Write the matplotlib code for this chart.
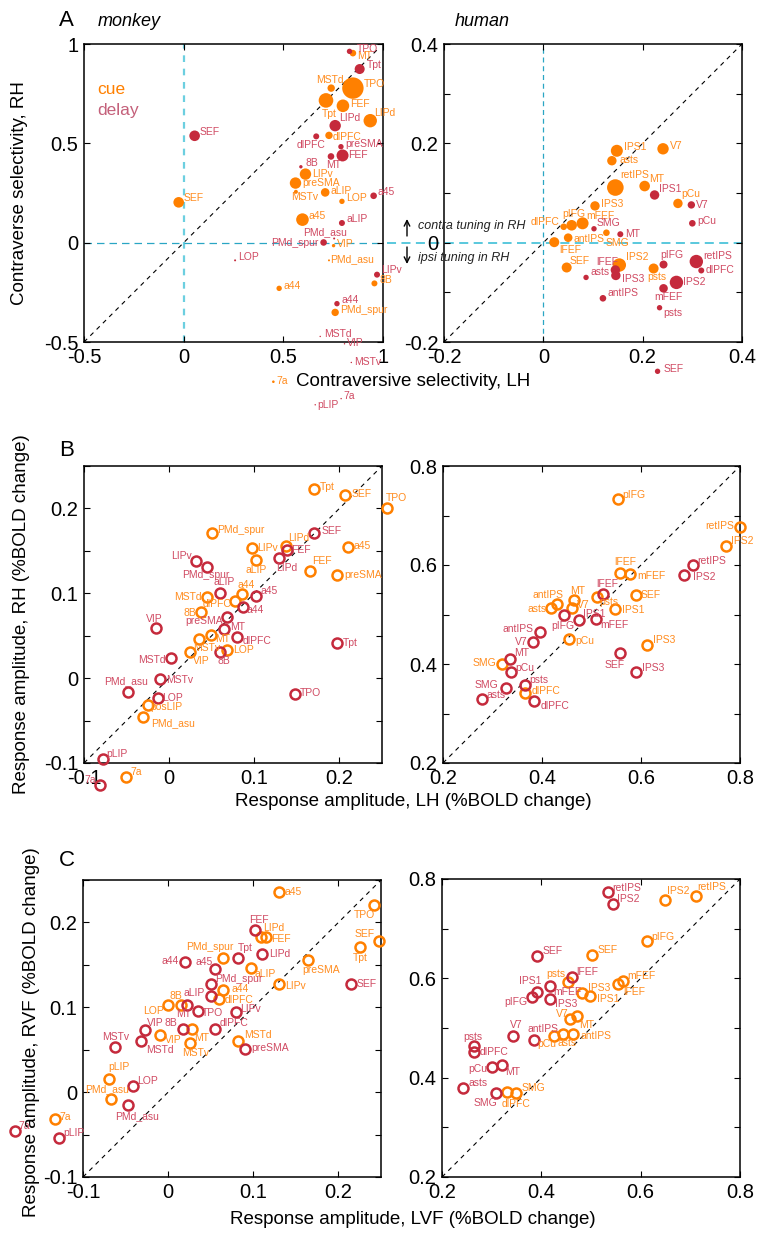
import matplotlib.pyplot as plt
import numpy as np

plt.rcParams['font.family'] = ['Liberation Sans', 'DejaVu Sans']

W, H = 765, 1233
CUE = '#FF8000'
DELAY = '#C52A3C'
CUE_TXT = '#FF8C1F'
DELAY_TXT = '#D04A62'

# ---------------- panel A, monkey (filled, size ~ significance) ----------------
a_mk_cue_names = ['MT', 'TPO', 'MSTd', 'Tpt', 'FEF', 'LIPd', 'dlPFC', '8B', 'LIPv', 'preSMA',
                  'MSTv', 'aLIP', 'LOP', 'SEF', 'a45', 'VIP', 'PMd_asu', 'a44', 'PMd_spur', '7a']
a_mk_cue_x = [0.849, 0.849, 0.740, 0.714, 0.799, 0.936, 0.729, 0.957, 0.611, 0.561,
              0.563, 0.710, 0.794, -0.025, 0.596, 0.752, 0.729, 0.479, 0.760, 0.450]
a_mk_cue_y = [0.954, 0.778, 0.778, 0.716, 0.689, 0.614, 0.540, -0.205, 0.345, 0.300,
              0.256, 0.253, 0.208, 0.203, 0.116, -0.015, -0.089, -0.230, -0.351, -0.700]
a_mk_cue_w = [3.3, 10.7, 3.7, 7.3, 6.3, 6.7, 3.7, 3.0, 5.7, 5.7,
              2.0, 4.3, 2.7, 5.3, 6.3, 1.7, 1.0, 2.7, 3.7, 1.3]

a_mk_del_names = ['TPO', 'Tpt', 'LIPd', 'dlPFC', 'SEF', 'preSMA', 'MT', 'FEF', '8B', 'a45', 'aLIP',
                  'PMd_asu', 'PMd_spur', 'LOP', 'LIPv', 'a44', 'MSTd', 'VIP', 'MSTv', 'pLIP', '7a']
a_mk_del_x = [0.832, 0.883, 0.760, 0.665, 0.055, 0.789, 0.739, 0.797, 0.588, 0.953, 0.794,
              0.755, 0.702, 0.258, 0.970, 0.769, 0.685, 0.807, 0.841, 0.660, 0.790]
a_mk_del_y = [0.963, 0.874, 0.589, 0.535, 0.538, 0.483, 0.434, 0.439, 0.382, 0.236, 0.099,
              0.021, 0.001, -0.089, -0.161, -0.307, -0.472, -0.509, -0.603, -0.816, -0.785]
a_mk_del_w = [2.7, 5.0, 5.7, 3.0, 5.3, 2.7, 3.3, 6.0, 1.7, 3.3, 3.0,
              1.0, 3.3, 1.0, 3.0, 2.7, 0.7, 0.7, 0.7, 0.7, 0.7]

# ---------------- panel A, human ----------------
a_hu_cue_names = ['IPS1', 'asts', 'V7', 'retIPS', 'MT', 'pCu', 'IPS3', 'pIFG', 'mFEF', 'dlPFC',
                  'antIPS', 'SMG', 'lFEF', 'SEF', 'IPS2', 'psts']
a_hu_cue_x = [0.148, 0.138, 0.241, 0.145, 0.204, 0.271, 0.104, 0.057, 0.079, 0.041,
              0.050, 0.127, 0.022, 0.047, 0.153, 0.222]
a_hu_cue_y = [0.185, 0.165, 0.189, 0.111, 0.114, 0.079, 0.074, 0.035, 0.039, 0.032,
              0.010, 0.020, 0.001, -0.050, -0.045, -0.052]
a_hu_cue_w = [6.0, 4.7, 5.7, 8.3, 5.3, 4.7, 4.7, 5.3, 6.0, 3.3,
              4.3, 3.3, 5.0, 5.0, 6.7, 5.0]

a_hu_del_names = ['IPS1', 'V7', 'pCu', 'SMG', 'MT', 'pIFG', 'retIPS', 'dlPFC', 'asts', 'lFEF',
                  'IPS3', 'IPS2', 'mFEF', 'antIPS', 'psts', 'SEF']
a_hu_del_x = [0.224, 0.298, 0.300, 0.102, 0.155, 0.242, 0.308, 0.318, 0.086, 0.145,
              0.146, 0.268, 0.242, 0.120, 0.234, 0.230]
a_hu_del_y = [0.096, 0.076, 0.039, 0.028, 0.017, -0.044, -0.038, -0.056, -0.070, -0.055,
              -0.066, -0.080, -0.092, -0.112, -0.131, -0.259]
a_hu_del_w = [4.7, 3.7, 3.3, 2.7, 3.0, 4.0, 6.7, 3.0, 2.7, 4.7,
              4.7, 6.7, 4.3, 3.3, 2.7, 2.7]

# ---------------- panel B, monkey (RH vs LH) ----------------
b_mk_cue_names = ['Tpt', 'SEF', 'TPO', 'PMd_spur', 'LIPv', 'LIPd', 'a45', 'aLIP', 'FEF', 'preSMA', 'a44',
                  'MSTd', 'dlPFC', '8B', 'MT', 'MSTv', 'VIP', 'LOP', 'posLIP', 'PMd_asu', '7a']
b_mk_cue_x = [0.170, 0.207, 0.2555, 0.050, 0.097, 0.137, 0.210, 0.102, 0.165, 0.197, 0.085,
              0.0445, 0.077, 0.0374, 0.0495, 0.0347, 0.0245, 0.0676, -0.0252, -0.0303, -0.0507]
b_mk_cue_y = [0.223, 0.216, 0.2006, 0.171, 0.153, 0.156, 0.154, 0.139, 0.126, 0.121, 0.0987,
              0.096, 0.091, 0.078, 0.0506, 0.046, 0.031, 0.0335, -0.0314, -0.0458, -0.117]

b_mk_del_names = ['SEF', 'FEF', 'LIPd', 'LIPv', 'PMd_spur', 'aLIP', 'a45', 'a44', 'preSMA', 'MT', 'dlPFC',
                  '8B', 'VIP', 'MSTd', 'MSTv', 'PMd_asu', 'LOP', 'pLIP', '7a', 'Tpt', 'TPO']
b_mk_del_x = [0.170, 0.139, 0.129, 0.0315, 0.0445, 0.0597, 0.102, 0.0868, 0.0676, 0.0644, 0.0797,
              0.060, -0.0154, 0.002, -0.0107, -0.048, -0.0134, -0.078, -0.0812, 0.197, 0.1478]
b_mk_del_y = [0.171, 0.151, 0.141, 0.1385, 0.131, 0.1007, 0.0963, 0.0843, 0.0717, 0.0585, 0.0488,
              0.031, 0.0588, 0.0237, -0.0009, -0.016, -0.0239, -0.0953, -0.1258, 0.0417, -0.0185]

# ---------------- panel B, human ----------------
b_hu_cue_names = ['pIFG', 'retIPS', 'IPS2', 'lFEF', 'mFEF', 'SEF', 'psts', 'antIPS', 'MT', 'asts',
                  'V7', 'IPS1', 'pCu', 'IPS3', 'SMG', 'dlPFC']
b_hu_cue_x = [0.553, 0.800, 0.771, 0.558, 0.577, 0.589, 0.511, 0.430, 0.464, 0.4186,
              0.4616, 0.548, 0.455, 0.612, 0.319, 0.3647]
b_hu_cue_y = [0.7325, 0.677, 0.638, 0.583, 0.581, 0.539, 0.536, 0.522, 0.529, 0.5135,
              0.514, 0.512, 0.450, 0.438, 0.3995, 0.341]

b_hu_del_names = ['retIPS', 'IPS2', 'lFEF', 'IPS1', 'pIFG', 'mFEF', 'antIPS', 'V7', 'SEF', 'IPS3',
                  'MT', 'pCu', 'SMG', 'psts', 'asts', 'dlPFC']
b_hu_del_x = [0.7045, 0.687, 0.523, 0.4757, 0.444, 0.509, 0.395, 0.3816, 0.558, 0.590,
              0.3358, 0.3365, 0.3263, 0.365, 0.278, 0.383]
b_hu_del_y = [0.5996, 0.5794, 0.541, 0.4887, 0.4995, 0.490, 0.464, 0.444, 0.4216, 0.3834,
              0.4095, 0.3834, 0.351, 0.3578, 0.329, 0.3255]

# ---------------- panel C, monkey (RVF vs LVF) ----------------
c_mk_cue_names = ['a45', 'TPO', 'SEF', 'Tpt', 'LIPd', 'FEF', 'PMd_spur', 'preSMA', 'aLIP', 'LIPv', 'a44',
                  'dlPFC', '8B', 'LOP', 'MT', 'VIP', 'MSTv', 'MSTd', 'pLIP', 'PMd_asu', '7a']
c_mk_cue_x = [0.130, 0.242, 0.2477, 0.2254, 0.1096, 0.115, 0.0646, 0.1647, 0.0975, 0.1307, 0.065,
              0.0603, 0.015, -0.0003, 0.0279, -0.0097, 0.0255, 0.0826, -0.070, -0.0671, -0.1325]
c_mk_cue_y = [0.2355, 0.2206, 0.178, 0.1706, 0.183, 0.183, 0.158, 0.1557, 0.1459, 0.1277, 0.1203,
              0.110, 0.103, 0.103, 0.075, 0.0675, 0.0577, 0.060, 0.0149, -0.0075, -0.0311]

c_mk_del_names = ['FEF', 'LIPd', 'Tpt', 'a44', 'a45', 'PMd_spur', 'aLIP', 'SEF', 'MT', 'TPO', 'LIPv',
                  'dlPFC', '8B', 'VIP', 'MSTd', 'MSTv', 'preSMA', 'LOP', 'PMd_asu', '7a', 'pLIP']
c_mk_del_x = [0.1025, 0.110, 0.0826, 0.020, 0.0549, 0.0502, 0.0502, 0.2152, 0.0227, 0.0353, 0.0799,
              0.0552, 0.0173, -0.0277, -0.0324, -0.0621, 0.0904, -0.0418, -0.0477, -0.1794, -0.1282]
c_mk_del_y = [0.191, 0.163, 0.158, 0.1533, 0.1454, 0.1277, 0.1132, 0.1277, 0.1026, 0.0951, 0.094,
              0.075, 0.075, 0.0727, 0.060, 0.0527, 0.0503, 0.007, -0.0154, -0.046, -0.0535]

# ---------------- panel C, human ----------------
c_hu_cue_names = ['IPS2', 'retIPS', 'pIFG', 'SEF', 'psts', 'mFEF', 'lFEF', 'IPS3', 'IPS1', 'V7',
                  'MT', 'pCu', 'asts', 'antIPS', 'SMG', 'dlPFC']
c_hu_cue_x = [0.650, 0.711, 0.612, 0.5017, 0.454, 0.5635, 0.554, 0.481, 0.497, 0.4568,
              0.4709, 0.4245, 0.4439, 0.464, 0.350, 0.3318]
c_hu_cue_y = [0.758, 0.766, 0.676, 0.647, 0.592, 0.5948, 0.588, 0.570, 0.565, 0.5187,
              0.5236, 0.4832, 0.4879, 0.4879, 0.370, 0.3715]

c_hu_del_names = ['retIPS', 'IPS2', 'SEF', 'lFEF', 'IPS1', 'mFEF', 'pIFG', 'IPS3', 'V7', 'antIPS',
                  'psts', 'dlPFC', 'pCu', 'MT', 'asts', 'SMG']
c_hu_del_x = [0.5333, 0.5434, 0.392, 0.4614, 0.3915, 0.417, 0.382, 0.417, 0.342, 0.385,
              0.2653, 0.264, 0.300, 0.3217, 0.2423, 0.3096]
c_hu_del_y = [0.773, 0.750, 0.6446, 0.6035, 0.573, 0.584, 0.563, 0.5585, 0.4838, 0.475,
              0.4637, 0.4516, 0.4207, 0.4247, 0.3796, 0.3689]

# label placement (dx, dy in pixels from marker centre, alignment), same order as names
a_mk_cue_lab = [(4, -3.3, 'l'), (10.7, 4, 'l'), (-1, 8.3, 'c'), (3, -13.7, 'c'), (6.7, 2, 'l'), (4, 7.7, 'l'),
                (4, -2, 'l'), (5.3, 3.7, 'l'), (6.3, 0.3, 'l'), (6.3, 0, 'l'), (8.7, -4.7, 'c'), (5, 1.3, 'l'),
                (4.3, 3.3, 'l'), (4.7, 4.3, 'l'), (6, 4, 'l'), (3.3, 2, 'l'), (1.3, 1.3, 'l'), (4.3, 2.7, 'l'),
                (5, 2, 'l'), (3.3, 1, 'l')]
a_mk_del_lab = [(7.3, 2.7, 'l'), (6.7, 3.7, 'l'), (4.3, 7.7, 'l'), (9.7, -9, 'r'), (4.7, 3.3, 'l'), (4.3, 2.7, 'l'),
                (2.3, -8.3, 'c'), (6, 0, 'l'), (4.3, 3.7, 'l'), (4.3, 3.3, 'l'), (5, 4, 'l'), (-8.7, 6.3, 'c'),
                (-5, -0.7, 'r'), (3.3, 3.3, 'l'), (4, 4.3, 'l'), (4.3, 3.3, 'l'), (4, 2.7, 'l'), (2.3, 0.7, 'l'),
                (3, 0, 'l'), (2, 0, 'l'), (2, 3, 'l')]
a_hu_cue_lab = [(7.3, 4, 'l'), (8, 0.3, 'l'), (6.7, 2.7, 'l'), (4.7, 13, 'l'), (4.3, 7.3, 'l'), (3.3, 9.3, 'l'),
                (6, 1.7, 'l'), (2.3, 11.7, 'c'), (4, 7.3, 'l'), (-4, 5, 'r'), (5, -1.7, 'l'), (10.7, -10.7, 'c'),
                (5, -7.7, 'l'), (3.3, 6, 'l'), (6.7, 7.7, 'l'), (3.7, -8.3, 'c')]
a_hu_del_lab = [(4.7, 6, 'l'), (5, 0, 'l'), (4.7, 2.7, 'l'), (2.3, 5.3, 'l'), (5.3, 0.7, 'l'), (8.7, 9.7, 'c'),
                (6.7, 6, 'l'), (4.3, 0, 'l'), (4, 5, 'l'), (3, 8.3, 'r'), (6.3, -3.3, 'l'), (6.7, 0, 'l'),
                (4.7, -8.7, 'c'), (5, 5, 'l'), (4, -5, 'l'), (5.7, 2.3, 'l')]
b_mk_cue_lab = [(6, 2.3, 'l'), (6, 1.3, 'l'), (-1, 10, 'l'), (5.7, 3.3, 'l'), (5.7, 0.3, 'l'), (2.3, 7.3, 'l'),
                (5.7, 1.3, 'l'), (0.3, -10.3, 'c'), (2.3, 10, 'l'), (7, 0, 'l'), (5, 9.3, 'c'), (-5.3, 0, 'r'),
                (-3, -3.3, 'r'), (-5, -0.7, 'r'), (4, -3.3, 'l'), (-6, -8.7, 'l'), (2.7, -9.3, 'l'), (6.7, -0.7, 'l'),
                (3, -2, 'l'), (8, -6.3, 'l'), (4, 5, 'l')]
b_mk_del_lab = [(7.7, 2, 'l'), (4, 0, 'l'), (-2.7, -10, 'l'), (-4.3, 4.7, 'r'), (-1, -8, 'c'), (4.3, 10.3, 'c'),
                (4.7, 5.3, 'l'), (3.7, -3.3, 'l'), (-3.3, -3.3, 'r'), (6, 2, 'l'), (5.7, -4, 'l'), (3.3, -8.7, 'c'),
                (-1.7, 9.3, 'c'), (-5, -1.7, 'r'), (6, -0.7, 'l'), (-2.3, 10.7, 'c'), (4, 0, 'l'), (4, 5.3, 'l'),
                (-4, 5.3, 'r'), (6.3, 0, 'l'), (5, 1, 'l')]
b_hu_cue_lab = [(5, 4.7, 'l'), (-6, 1, 'r'), (5.3, 5, 'l'), (4.7, 11, 'c'), (7.3, -1.7, 'l'), (5.3, 0, 'l'),
                (2.7, -5, 'l'), (-8.7, 9, 'c'), (4, 9, 'c'), (-4.3, -0.7, 'r'), (4.3, 2.3, 'l'), (6.3, -1.7, 'l'),
                (6, -1.7, 'l'), (5.7, 5, 'l'), (-5.7, 1.7, 'r'), (7.3, 2.7, 'l')]
b_hu_del_lab = [(5, 4.3, 'l'), (8.7, -2.3, 'l'), (4.3, 10.7, 'c'), (4, 5.7, 'l'), (-0.7, -11.3, 'c'), (4, -5.7, 'l'),
                (-6, 3.3, 'r'), (-5.3, 0, 'r'), (-6, -11.7, 'c'), (6.3, 4, 'l'), (4.3, 6, 'l'), (4.7, 4, 'l'),
                (-6.7, 3.3, 'r'), (4.7, 5, 'l'), (4.7, 3.7, 'l'), (6.7, -4.7, 'l')]
c_mk_cue_lab = [(5.7, 0, 'l'), (-9.7, -10.3, 'c'), (-4, 6.7, 'r'), (0, -11, 'c'), (2, 9.3, 'l'), (4.7, -1.7, 'l'),
                (-13.7, 10.7, 'c'), (13, -10, 'c'), (3.3, -5.7, 'l'), (5.7, -2.3, 'l'), (8.3, 0.7, 'l'), (5, -1.3, 'l'),
                (-4.7, 9, 'c'), (-4.3, -6, 'r'), (2.7, -9.3, 'l'), (5.3, -4.7, 'l'), (6.3, -10.3, 'c'), (6, 6, 'l'),
                (10.3, 12, 'c'), (-3.7, 9, 'c'), (4.3, 1.7, 'l')]
c_mk_del_lab = [(3.3, 10, 'c'), (7.7, 0, 'l'), (7, 9.7, 'c'), (-6.7, 1.3, 'r'), (-2.3, 6.7, 'r'), (4.3, 4.7, 'l'),
                (-5.7, 3.3, 'r'), (5.3, 0, 'l'), (-4, -9.3, 'c'), (3.7, -1.7, 'l'), (4, 3.3, 'l'), (4.3, 5, 'l'),
                (-6, 5, 'r'), (2.3, 7, 'l'), (5.3, -8.3, 'l'), (0, 10, 'c'), (5.7, 1, 'l'), (4.3, 5, 'l'),
                (9.7, -11, 'c'), (3.3, 5, 'l'), (4.7, 4.7, 'l')]
c_hu_cue_lab = [(2, 9, 'l'), (1.7, 8.7, 'l'), (5, 4, 'l'), (5.7, 5, 'l'), (-12.7, 8.3, 'c'), (5, 5, 'l'),
                (5.3, -8, 'l'), (6, 5, 'l'), (7, -3.7, 'l'), (-1.3, 4.3, 'r'), (2.3, -8.7, 'l'), (-6.3, -8, 'c'),
                (4, -9.3, 'c'), (7.3, -2, 'l'), (5, 5, 'l'), (9, -11.7, 'c')]
c_hu_del_lab = [(4.7, 4.3, 'l'), (4.7, 4.7, 'l'), (5, 5.3, 'l'), (4, 4.3, 'l'), (-6.7, 10.7, 'c'), (4, -5.3, 'l'),
                (-5.3, -5, 'r'), (5, -5, 'l'), (3.7, 11, 'c'), (9.3, 11, 'c'), (-1.3, 9.3, 'c'), (6, 0.3, 'l'),
                (-4.7, -1.7, 'r'), (2.3, -6.3, 'l'), (5.7, 4.3, 'l'), (-11, -9.7, 'c')]

HA = {'l': 'left', 'r': 'right', 'c': 'center'}
PX = 72.0 / 100  # pixels -> points


def make_ax(fig, l, t, r, b):
    ax = fig.add_axes([l / W, 1 - b / H, (r - l) / W, (b - t) / H])
    ax.tick_params(direction='in', top=True, right=True, length=4, width=0.8,
                   labelsize=14.5, pad=4)
    for s in ax.spines.values():
        s.set_linewidth(1.1)
    return ax


def set_ticks(ax, lim, xt, xl, yt, yl):
    ax.set_xlim(lim)
    ax.set_ylim(lim)
    ax.set_xticks(xt)
    ax.set_xticklabels(xl)
    ax.set_yticks(yt)
    ax.set_yticklabels(yl)


def draw(ax, names, xs, ys, labs, mcol, tcol, widths=None):
    if widths is None:
        ax.plot(xs, ys, 'o', mfc='none', mec=mcol, mew=1.8, ms=7.2, clip_on=False, zorder=3)
    else:
        s = (2 * np.array(widths) * PX) ** 2
        ax.scatter(xs, ys, s=s, c=mcol, lw=0, clip_on=False, zorder=3)
    for n, x, y, (dx, dy, ha) in zip(names, xs, ys, labs):
        ax.annotate(n, (x, y), xytext=(dx * PX, dy * PX), textcoords='offset points',
                    ha=HA[ha], va='center', fontsize=7.5, color=tcol,
                    annotation_clip=False, zorder=4)


def diag(ax, lo, hi):
    ax.plot([lo, hi], [lo, hi], color='k', lw=0.8, dashes=(4, 4), zorder=1)


def ftext(x, y, s, **kw):
    fig.text(x / W, 1 - y / H, s, **kw)


fig = plt.figure(figsize=(W / 100, H / 100), dpi=100)

# ---- A monkey
ax = make_ax(fig, 84, 44, 383, 342)
set_ticks(ax, (-0.5, 1), [-0.5, 0, 0.5, 1], ['-0.5', '0', '0.5', '1'],
          [-0.5, 0, 0.5, 1], ['-0.5', '0', '0.5', '1'])
diag(ax, -0.5, 0.98)
ax.axvline(0, color='#6CCFE0', lw=1.6, dashes=(3, 3), zorder=1)
ax.axhline(0, color='#2AA6C4', lw=0.9, dashes=(6, 4), zorder=1)
draw(ax, a_mk_cue_names, a_mk_cue_x, a_mk_cue_y, a_mk_cue_lab, CUE, CUE_TXT, a_mk_cue_w)
draw(ax, a_mk_del_names, a_mk_del_x, a_mk_del_y, a_mk_del_lab, DELAY, DELAY_TXT, a_mk_del_w)

# ---- A human
ax_hu = make_ax(fig, 444, 44, 742, 342)
ax = ax_hu
set_ticks(ax, (-0.2, 0.4), [-0.2, 0, 0.2, 0.4], ['-0.2', '0', '0.2', '0.4'],
          np.arange(-0.2, 0.41, 0.1), ['-0.2', '', '0', '', '0.2', '', '0.4'])
diag(ax, -0.2, 0.4)
ax.axvline(0, color='#2AA6C4', lw=0.9, dashes=(4, 3), zorder=1)
ax.plot([-0.315, 0.4], [0, 0], color='#4CC4DA', lw=1.3, dashes=(5, 3), clip_on=False, zorder=1)
draw(ax, a_hu_cue_names, a_hu_cue_x, a_hu_cue_y, a_hu_cue_lab, CUE, CUE_TXT, a_hu_cue_w)
draw(ax, a_hu_del_names, a_hu_del_x, a_hu_del_y, a_hu_del_lab, DELAY, DELAY_TXT, a_hu_del_w)

# ---- B monkey
mk_t = [-0.1, 0, 0.1, 0.2]
mk_tl = ['-0.1', '0', '0.1', '0.2']
mk_y = np.arange(-0.1, 0.26, 0.05)
mk_yl = ['-0.1', '', '0', '', '0.1', '', '0.2', '']
ax = make_ax(fig, 84, 466, 382, 763)
set_ticks(ax, (-0.1, 0.25), mk_t, mk_tl, mk_y, mk_yl)
diag(ax, -0.1, 0.25)
draw(ax, b_mk_cue_names, b_mk_cue_x, b_mk_cue_y, b_mk_cue_lab, CUE, CUE_TXT)
draw(ax, b_mk_del_names, b_mk_del_x, b_mk_del_y, b_mk_del_lab, DELAY, DELAY_TXT)

# ---- B human
hu_t = [0.2, 0.4, 0.6, 0.8]
hu_tl = ['0.2', '0.4', '0.6', '0.8']
hu_y = np.arange(0.2, 0.81, 0.1)
hu_yl = ['0.2', '', '0.4', '', '0.6', '', '0.8']
ax = make_ax(fig, 443, 466, 740, 763)
set_ticks(ax, (0.2, 0.8), hu_t, hu_tl, hu_y, hu_yl)
diag(ax, 0.2, 0.8)
draw(ax, b_hu_cue_names, b_hu_cue_x, b_hu_cue_y, b_hu_cue_lab, CUE, CUE_TXT)
draw(ax, b_hu_del_names, b_hu_del_x, b_hu_del_y, b_hu_del_lab, DELAY, DELAY_TXT)

# ---- C monkey
ax = make_ax(fig, 83, 880, 381, 1177)
set_ticks(ax, (-0.1, 0.25), mk_t, mk_tl, mk_y, mk_yl)
diag(ax, -0.1, 0.25)
draw(ax, c_mk_cue_names, c_mk_cue_x, c_mk_cue_y, c_mk_cue_lab, CUE, CUE_TXT)
draw(ax, c_mk_del_names, c_mk_del_x, c_mk_del_y, c_mk_del_lab, DELAY, DELAY_TXT)

# ---- C human
ax = make_ax(fig, 442, 879, 740, 1177)
set_ticks(ax, (0.2, 0.8), hu_t, hu_tl, hu_y, hu_yl)
diag(ax, 0.2, 0.8)
draw(ax, c_hu_cue_names, c_hu_cue_x, c_hu_cue_y, c_hu_cue_lab, CUE, CUE_TXT)
draw(ax, c_hu_del_names, c_hu_del_x, c_hu_del_y, c_hu_del_lab, DELAY, DELAY_TXT)

# ---- panel letters, titles, legend, axis labels
ftext(59, 20, 'A', fontsize=16, va='center')
ftext(59, 450, 'B', fontsize=16, va='center')
ftext(59, 860, 'C', fontsize=16, va='center')
ftext(98, 21, 'monkey', fontsize=13, style='italic', va='center')
ftext(455, 22, 'human', fontsize=13, style='italic', va='center')
ftext(97, 90, 'cue', fontsize=12.5, color=CUE, va='center')
ftext(97, 110, 'delay', fontsize=12.5, color='#C4607A', va='center')

ftext(20, 193, 'Contraverse selectivity, RH', fontsize=13.5, rotation=90, ha='center', va='center')
ftext(413, 381, 'Contraversive selectivity, LH', fontsize=13.5, ha='center', va='center')
ftext(22, 614, 'Response amplitude, RH (%BOLD change)', fontsize=13.5, rotation=90, ha='center', va='center')
ftext(413, 802, 'Response amplitude, LH (%BOLD change)', fontsize=13.5, ha='center', va='center')
ftext(32, 1032, 'Response amplitude, RVF (%BOLD change)', fontsize=13.5, rotation=90, ha='center', va='center')
ftext(413, 1220, 'Response amplitude, LVF (%BOLD change)', fontsize=13.5, ha='center', va='center')

# tuning annotation between the A panels
arr = dict(arrowstyle='->', lw=1.0, color='k', shrinkA=0, shrinkB=0)
ax_hu.annotate('', xy=(407 / W, 1 - 219 / H), xytext=(407 / W, 1 - 236 / H),
               xycoords='figure fraction', textcoords='figure fraction', arrowprops=arr)
ax_hu.annotate('', xy=(407 / W, 1 - 264 / H), xytext=(407 / W, 1 - 247 / H),
               xycoords='figure fraction', textcoords='figure fraction', arrowprops=arr)
ftext(418, 226, 'contra tuning in RH', fontsize=9, style='italic', va='center', color='#222222')
ftext(418, 258, 'ipsi tuning in RH', fontsize=9, style='italic', va='center', color='#222222')

fig.savefig('out.png', dpi=100)
